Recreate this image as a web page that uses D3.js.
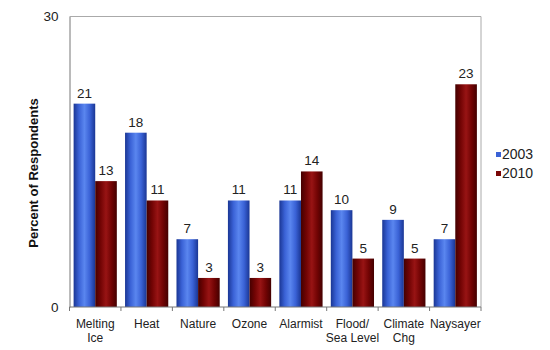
<!DOCTYPE html>
<html>
<head>
<meta charset="utf-8">
<script src="https://cdn.jsdelivr.net/npm/d3@7"></script>
<style>
  html, body { margin: 0; padding: 0; background: #fff; }
  svg { display: block; font-family: "Liberation Sans", Arial, sans-serif; }
</style>
</head>
<body>
<svg id="chart" width="550" height="350"></svg>
<script>
// Survey categories and response shares (percent) for the two survey years
const categories = [["Melting", "Ice"], ["Heat"], ["Nature"], ["Ozone"], ["Alarmist"], ["Flood/", "Sea Level"], ["Climate", "Chg"], ["Naysayer"]];
const years = ["2003", "2010"];
const values2003 = [21, 18, 7, 11, 11, 10, 9, 7];
const values2010 = [13, 11, 3, 3, 14, 5, 5, 23];
const yTicks = [0, 30];

const svg = d3.select("#chart");
const margin = { left: 69.5, right: 69, top: 16.5, bottom: 43 };
const W = 550, H = 350;
const plotW = W - margin.left - margin.right;
const plotH = H - margin.top - margin.bottom;

const defs = svg.append("defs");
function cylinder(id, edge, mid, center) {
  const g = defs.append("linearGradient").attr("id", id)
    .attr("x1", "0%").attr("x2", "100%").attr("y1", "0%").attr("y2", "0%");
  g.append("stop").attr("offset", "0%").attr("stop-color", edge);
  g.append("stop").attr("offset", "25%").attr("stop-color", mid);
  g.append("stop").attr("offset", "50%").attr("stop-color", center);
  g.append("stop").attr("offset", "75%").attr("stop-color", mid);
  g.append("stop").attr("offset", "100%").attr("stop-color", edge);
}
cylinder("gBlue", "#1a3694", "#3a62d6", "#5a86ef");
cylinder("gRed", "#440000", "#720404", "#981414");
const fills = ["url(#gBlue)", "url(#gRed)"];
const legendColors = ["#3a62d6", "#7a0606"];

const g = svg.append("g").attr("transform", `translate(${margin.left},${margin.top})`);

const x0 = d3.scaleBand().domain(d3.range(categories.length)).range([0, plotW]).paddingInner(0.16).paddingOuter(0.08);
const x1 = d3.scaleBand().domain(years).range([0, x0.bandwidth()]);
const y = d3.scaleLinear().domain([0, 30]).range([plotH, 0]);

// Plot frame: top and right edges
g.append("path")
  .attr("d", `M0,0H${plotW}V${plotH}`)
  .attr("fill", "none").attr("stroke", "#aaa").attr("stroke-width", 1);

const series = [values2003, values2010];
const groups = g.selectAll("g.cat").data(categories).join("g")
  .attr("class", "cat")
  .attr("transform", (d, i) => `translate(${x0(i)},0)`);

groups.each(function (d, i) {
  const grp = d3.select(this);
  years.forEach((yr, s) => {
    const v = series[s][i];
    grp.append("rect")
      .attr("x", x1(yr))
      .attr("y", y(v))
      .attr("width", x1.bandwidth())
      .attr("height", y(0) - y(v))
      .attr("fill", fills[s]);
    grp.append("text")
      .attr("x", x1(yr) + x1.bandwidth() / 2)
      .attr("y", y(v) - 6)
      .attr("text-anchor", "middle")
      .attr("font-size", 13.5)
      .attr("fill", "#222")
      .text(v);
  });
});

// Y axis
const yAxis = d3.axisLeft(y).tickValues(yTicks).tickSize(0).tickPadding(11);
const ya = g.append("g").call(yAxis);
ya.select(".domain").attr("stroke", "#777");
ya.selectAll("text").attr("font-size", 13.5).attr("fill", "#222").attr("font-family", "Liberation Sans, Arial, sans-serif");

// X axis with ticks at category boundaries
const xa = g.append("g").attr("transform", `translate(0,${plotH})`);
xa.append("line").attr("x1", 0).attr("x2", plotW).attr("stroke", "#777");
const step = plotW / categories.length;
xa.selectAll("line.tick").data(d3.range(categories.length + 1)).join("line")
  .attr("class", "tick")
  .attr("x1", d => d * step).attr("x2", d => d * step)
  .attr("y1", 0).attr("y2", 4).attr("stroke", "#777");
xa.selectAll("text").data(categories).join("text")
  .attr("x", (d, i) => x0(i) + x0.bandwidth() / 2)
  .attr("y", 21)
  .attr("text-anchor", "middle")
  .attr("font-size", 12)
  .attr("fill", "#222")
  .each(function (d) {
    const t = d3.select(this);
    d.forEach((line, k) => {
      t.append("tspan").attr("x", t.attr("x")).attr("dy", k === 0 ? 0 : 14).text(line);
    });
  });

// Y axis title
svg.append("text")
  .attr("transform", "translate(38,173) rotate(-90)")
  .attr("text-anchor", "middle")
  .attr("font-size", 13)
  .attr("font-weight", "bold")
  .attr("fill", "#111")
  .text("Percent of Respondents");

// Legend
const lg = svg.append("g").attr("transform", "translate(496,159)");
years.forEach((yr, s) => {
  lg.append("rect").attr("x", 0).attr("y", s * 19 - 7).attr("width", 5).attr("height", 5).attr("fill", legendColors[s]);
  lg.append("text").attr("x", 6).attr("y", s * 19).attr("font-size", 14).attr("fill", "#222").text(yr);
});
</script>
</body>
</html>
